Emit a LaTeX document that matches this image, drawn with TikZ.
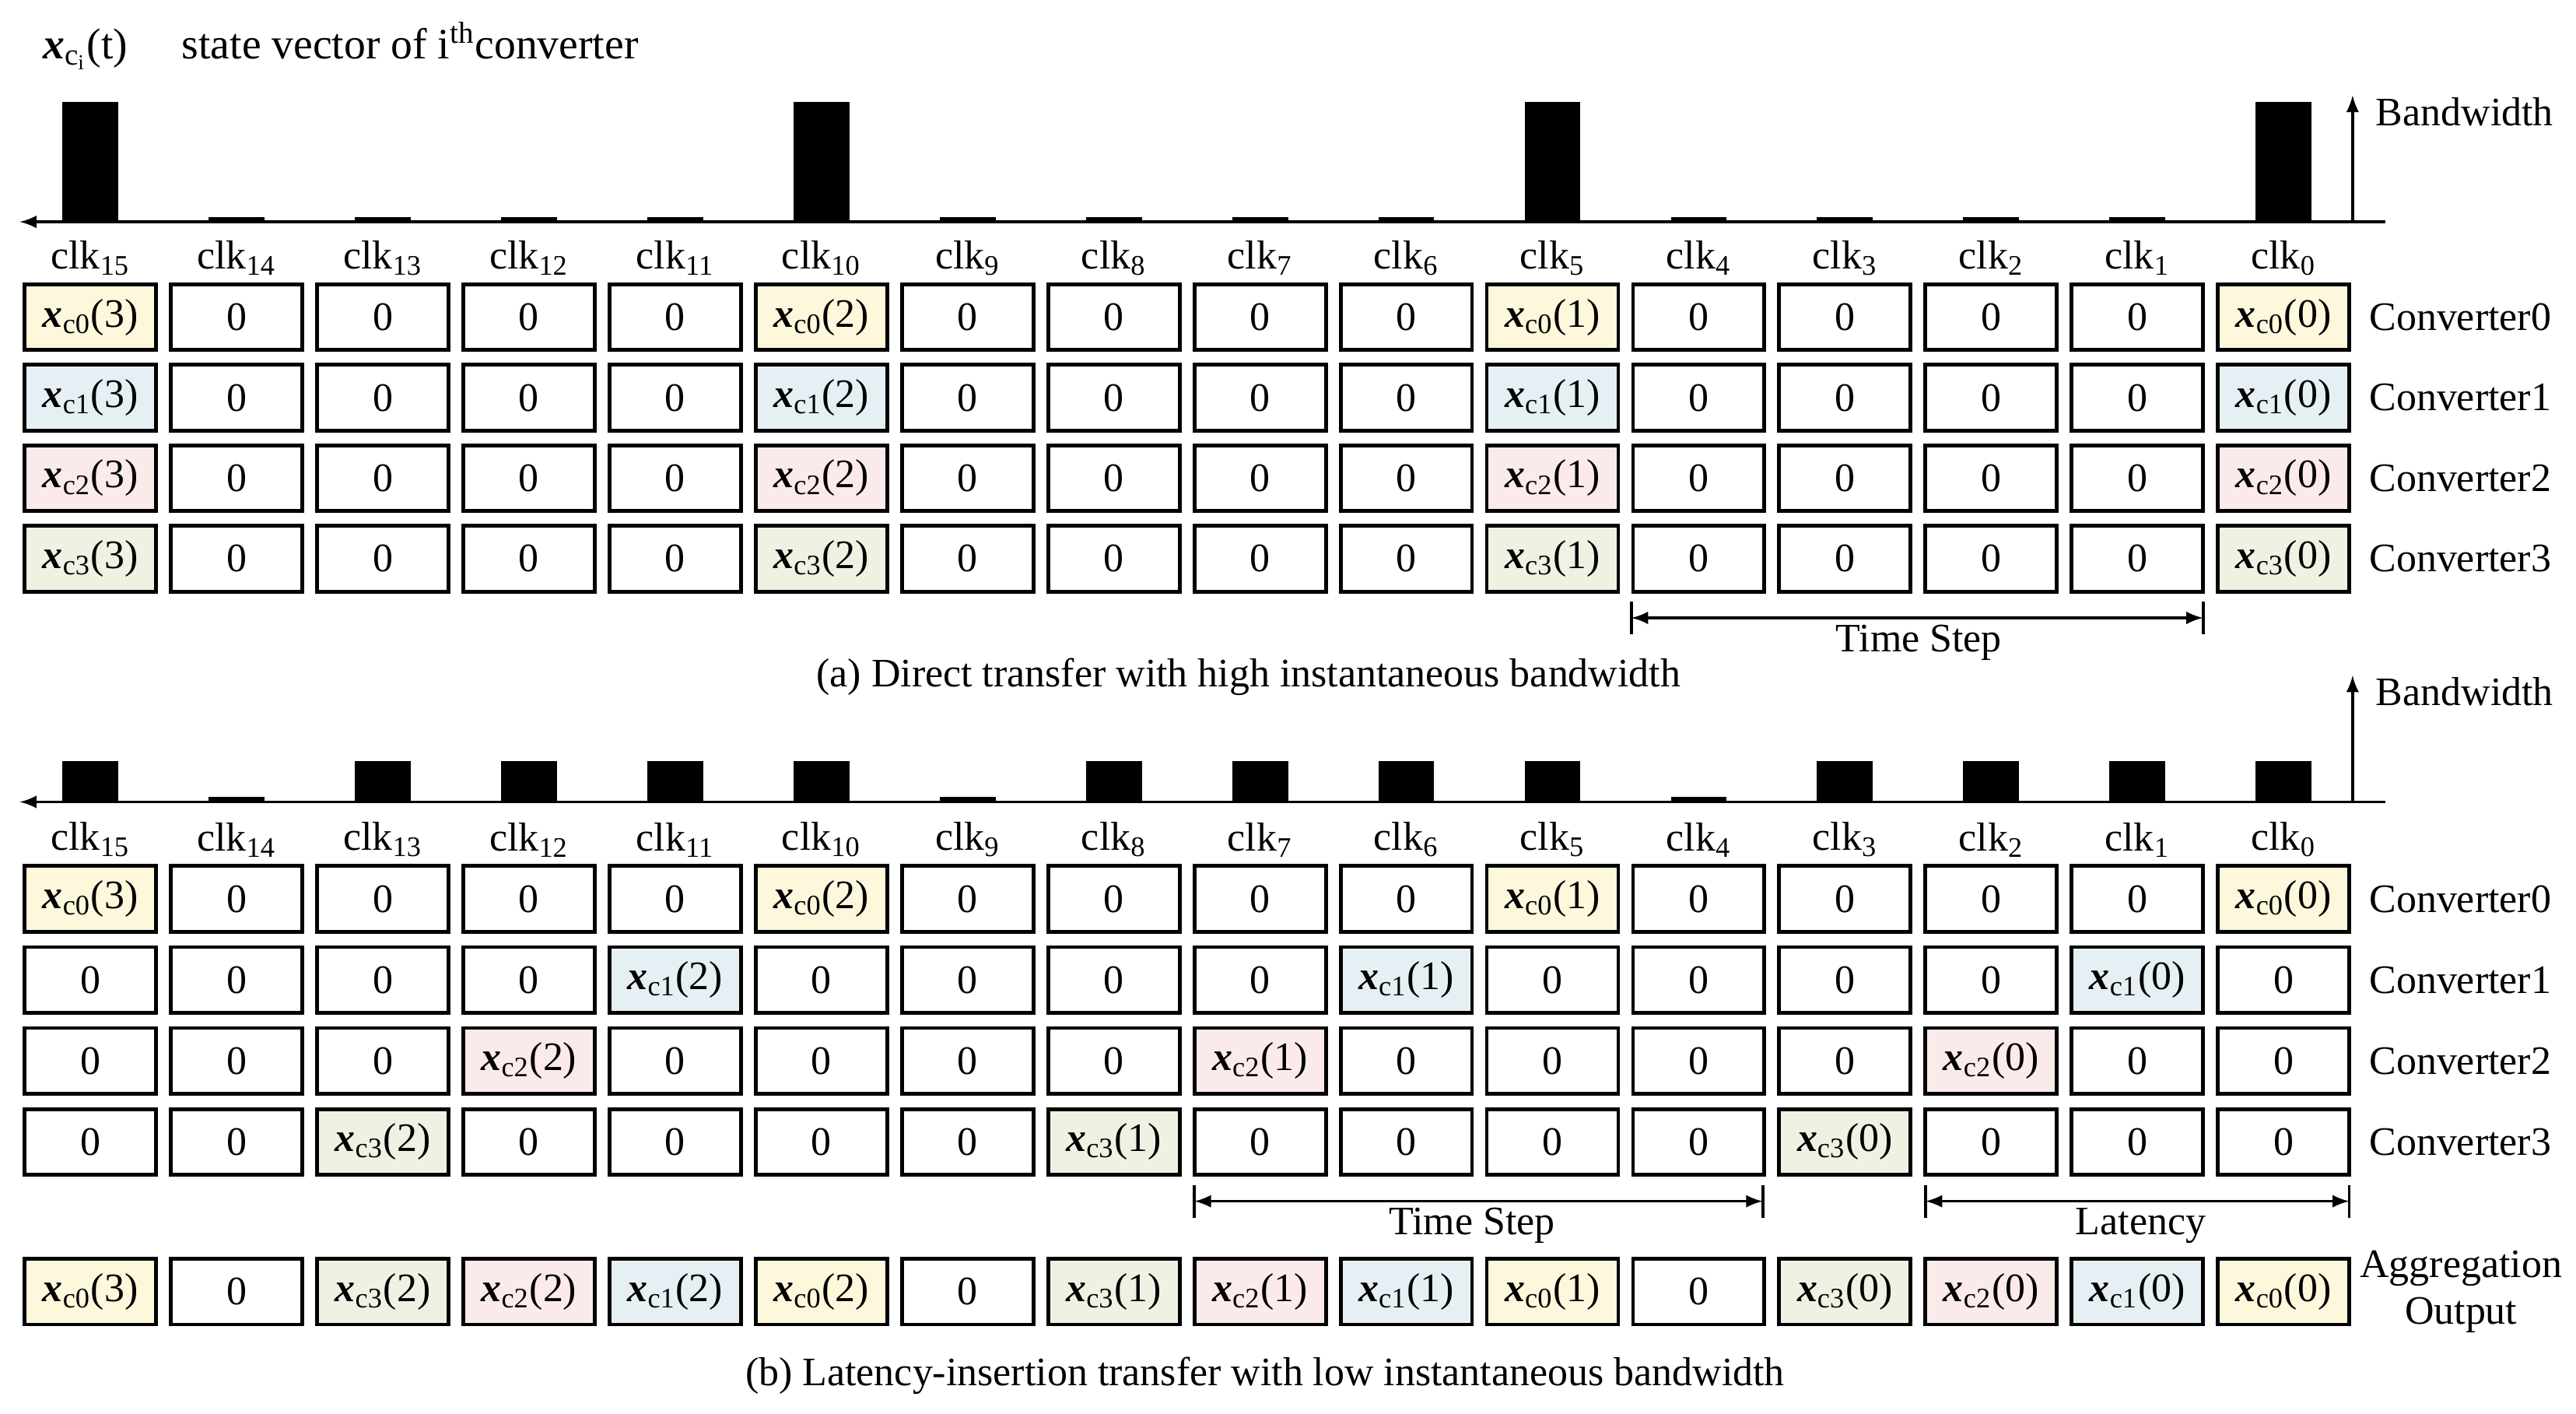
\documentclass[tikz,border=0pt]{standalone}
\usepackage{fontspec}
\setmainfont{Liberation Serif}
\definecolor{c0col}{HTML}{FDF7DC}
\definecolor{c1col}{HTML}{E6F0F4}
\definecolor{c2col}{HTML}{FBEAEA}
\definecolor{c3col}{HTML}{EEF2E3}
\newcommand{\xcv}[2]{\textbf{\textit{x}}\textsubscript{c#1}(#2)}
\tikzset{
 cell/.style={draw,line width=1.3pt,minimum width=80*0.02cm,minimum height=40*0.02cm,inner sep=0pt,font=\fontsize{14}{14}\selectfont},
 fill0/.style={fill=c0col},fill1/.style={fill=c1col},fill2/.style={fill=c2col},fill3/.style={fill=c3col},
 lbl/.style={font=\fontsize{14}{16}\selectfont},
 bar/.style={fill=black},
 arr/.style={-latex,line width=1pt},
 dim/.style={latex-latex,line width=1pt}
}
\begin{document}
\begin{tikzpicture}[x=0.02cm,y=-0.02cm]
\useasboundingbox (0,0) rectangle (1568,860);
% header
\node[lbl,anchor=west] (hdr) at (20,28) {\fontsize{15}{16}\selectfont\textbf{\textit{x}}\textsubscript{c\textsubscript{i}}(t)\quad\ state vector of i\textsuperscript{th}converter};
% ---- (a)
\coordinate (aaxR) at (1452,135); \coordinate (aaxL) at (12,135);
\draw[arr] (aaxR) -- (aaxL);
\coordinate (abw0) at (1432,135); \coordinate (abw1) at (1432,58);
\draw[arr] (abw0) -- (abw1);
\node[lbl,anchor=west] (abwl) at (1440,68) {Bandwidth};
\foreach \col in {0,...,15}{
  \pgfmathtruncatemacro{\clk}{15-\col}
  \pgfmathsetmacro{\cx}{55+89*\col}
  \pgfmathtruncatemacro{\md}{mod(\clk,5)}
  \ifnum\md=0 \fill[bar] (\cx-17,62) rectangle (\cx+17,135);
  \else \fill[bar] (\cx-17,132) rectangle (\cx+17,135); \fi
  \node[lbl] (aclk\col) at (\cx,157) {clk\textsubscript{\clk}};
  \foreach \r in {0,...,3}{
    \pgfmathsetmacro{\cy}{193+49*\r}
    \ifnum\md=0
      \pgfmathtruncatemacro{\v}{\clk/5}
      \node[cell,fill\r] (a-\r-\col) at (\cx,\cy) {\xcv{\r}{\v}};
    \else
      \node[cell] (a-\r-\col) at (\cx,\cy) {0};
    \fi
  }
}
\foreach \r in {0,...,3}{\node[lbl,anchor=west] (aconv\r) at (1436,193+49*\r) {Converter\r};}
\coordinate (ats0) at (993,376); \coordinate (ats1) at (1341,376);
\draw[dim] (ats0) -- (ats1);
\draw[line width=1pt] (993,366) -- (993,386) (1341,366) -- (1341,386);
\node[lbl] (atsl) at (1168,391) {Time Step};
\node[lbl] (acap) at (760,412) {(a) Direct transfer with high instantaneous bandwidth};
% ---- (b)
\coordinate (baxR) at (1452,488); \coordinate (baxL) at (12,488);
\draw[arr] (baxR) -- (baxL);
\coordinate (bbw0) at (1432,488); \coordinate (bbw1) at (1432,411);
\draw[arr] (bbw0) -- (bbw1);
\node[lbl,anchor=west] (bbwl) at (1440,421) {Bandwidth};
\foreach \col in {0,...,15}{
  \pgfmathtruncatemacro{\clk}{15-\col}
  \pgfmathsetmacro{\cx}{55+89*\col}
  \pgfmathtruncatemacro{\md}{mod(\clk,5)}
  \pgfmathtruncatemacro{\m}{int(\clk/5)}
  \ifnum\md=4 \fill[bar] (\cx-17,485) rectangle (\cx+17,488);
  \else \fill[bar] (\cx-17,463) rectangle (\cx+17,488); \fi
  \node[lbl] (bclk\col) at (\cx,511) {clk\textsubscript{\clk}};
  \foreach \r in {0,...,3}{
    \pgfmathsetmacro{\cy}{547+49.3*\r}
    \ifnum\md=\r
      \node[cell,fill\r] (b-\r-\col) at (\cx,\cy) {\xcv{\r}{\m}};
    \else
      \node[cell] (b-\r-\col) at (\cx,\cy) {0};
    \fi
  }
  \ifnum\md=4
    \node[cell] (bag\col) at (\cx,786) {0};
  \else
    \node[cell,fill\md] (bag\col) at (\cx,786) {\xcv{\md}{\m}};
  \fi
}
\foreach \r in {0,...,3}{\node[lbl,anchor=west] (bconv\r) at (1436,547+49.3*\r) {Converter\r};}
\node[lbl,align=center] (bagl) at (1498,786) {Aggregation\\Output};
\coordinate (bts0) at (727,731); \coordinate (bts1) at (1073,731);
\draw[dim] (bts0) -- (bts1);
\draw[line width=1pt] (727,721) -- (727,741) (1073,721) -- (1073,741);
\node[lbl] (btsl) at (896,746) {Time Step};
\coordinate (blt0) at (1172,731); \coordinate (blt1) at (1430,731);
\draw[dim] (blt0) -- (blt1);
\draw[line width=1pt] (1172,721) -- (1172,741) (1430,721) -- (1430,741);
\node[lbl] (bltl) at (1303,746) {Latency};
\node[lbl] (bcap) at (770,837) {(b) Latency-insertion transfer with low instantaneous bandwidth};
\end{tikzpicture}
\end{document}
